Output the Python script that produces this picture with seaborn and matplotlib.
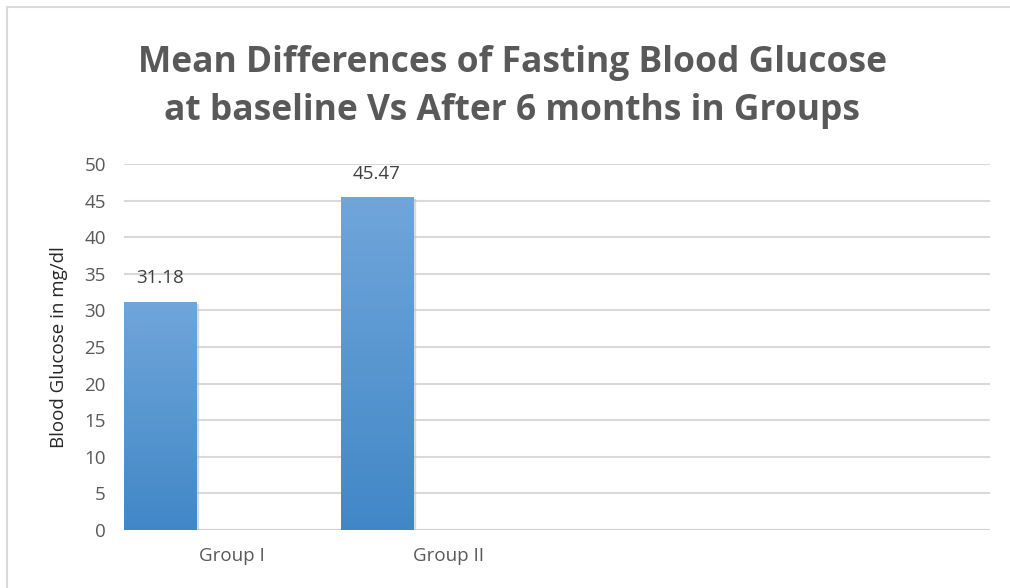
import numpy as np
import pandas as pd
import matplotlib
matplotlib.use("Agg")
import matplotlib.pyplot as plt
import seaborn as sns

# dados do gráfico
grupos = ["Group I", "Group II"]
series = ["Mean Difference", "s2", "s3"]
valores = [31.18, 45.47]
titulo = "Mean Differences of Fasting Blood Glucose\nat baseline Vs After 6 months in Groups"
rotulo_y = "Blood Glucose in mg/dl"

df = pd.DataFrame({"grupo": grupos, "serie": series[0], "valor": valores})

sns.set_theme(style="white")
plt.rcParams["font.family"] = ["Open Sans", "DejaVu Sans"]
cinza = "#595959"

fig = plt.figure(figsize=(10.1, 5.88), dpi=100)
ax = fig.add_axes([0.1228, 0.0986, 0.8574, 0.6224])

sns.barplot(data=df, x="grupo", y="valor", hue="serie", hue_order=series,
            order=grupos, width=1.0, dodge=True, ax=ax, legend=False,
            color="#5b9bd5", saturation=1, linewidth=0)

ax.set_xlim(-0.5, 3.5)
ax.set_ylim(0, 50)
ax.set_yticks(range(0, 51, 5))
ax.set_xticks(range(len(grupos)))
ax.set_xticklabels(grupos)
ax.tick_params(axis="both", length=0, labelsize=13.5, colors=cinza)
ax.tick_params(axis="x", pad=12)
ax.tick_params(axis="y", pad=13)
ax.set_xlabel("")
ax.set_ylabel(rotulo_y, fontsize=13.5, color="#262626", labelpad=12)
ax.yaxis.grid(True, color="#d9d9d9", linewidth=1.5)
ax.set_axisbelow(True)
for s in ax.spines.values():
    s.set_visible(False)
ax.axhline(0, color="#d0d0d0", linewidth=1.5, zorder=1)

# gradiente nas barras
grad = np.linspace(1, 0, 256).reshape(-1, 1)
cmap = matplotlib.colors.LinearSegmentedColormap.from_list("g", ["#4187c7", "#70a6da"])
for p in ax.patches:
    if p.get_height() <= 0:
        continue
    x0, w, h = p.get_x(), p.get_width(), p.get_height()
    p.set_facecolor("none")
    sh = plt.Rectangle((x0 + 0.01, -0.25), w, h, color="#c4c4c4", alpha=0.5, zorder=2)
    ax.add_patch(sh)
    im = ax.imshow(grad, extent=[x0, x0 + w, 0, h], aspect="auto", cmap=cmap,
                   vmin=0, vmax=1, zorder=3)
    im.set_clip_path(p)
    ax.text(x0 + w / 2, h + 2.0, f"{h:.2f}", ha="center", va="bottom",
            fontsize=13.5, color="#404040")

ax.set_xlim(-0.5, 3.5)
ax.set_ylim(0, 50)

fig.text(0.507, 0.852, titulo, ha="center", va="center", fontsize=25.5,
         fontweight="bold", color=cinza, linespacing=1.45)

# moldura externa
fig.add_artist(plt.Line2D([7 / 1010, 1], [1 - 7 / 588, 1 - 7 / 588], color="#d9d9d9", linewidth=1.5))
fig.add_artist(plt.Line2D([7 / 1010, 7 / 1010], [0, 1 - 7 / 588], color="#d9d9d9", linewidth=1.5))

fig.savefig("out.png", dpi=100)
